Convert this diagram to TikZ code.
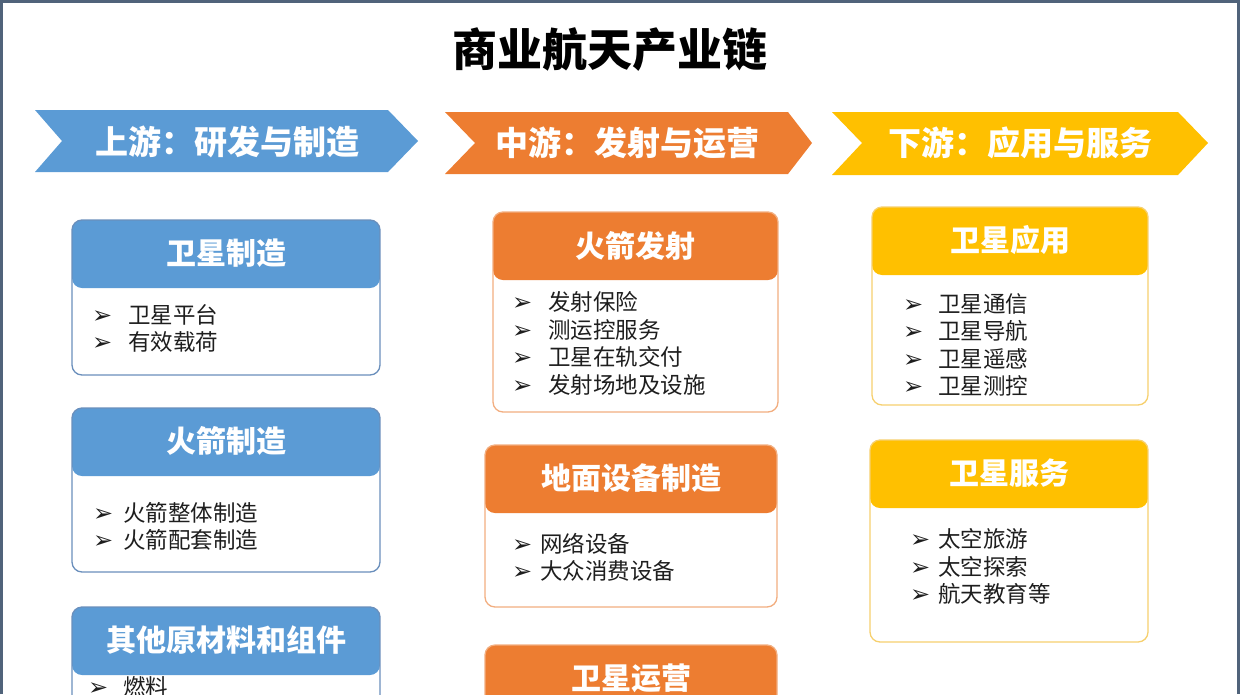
\documentclass[tikz,border=0pt]{standalone}
\usepackage{fontspec}
\setmainfont{Noto Sans CJK SC}
\newfontfamily\bulletfont{DejaVu Sans}
\definecolor{upblue}{HTML}{5B9BD5}
\definecolor{upline}{HTML}{6A8FBC}
\definecolor{midorange}{HTML}{ED7D31}
\definecolor{midline}{HTML}{F2AE80}
\definecolor{downyellow}{HTML}{FFC000}
\definecolor{downline}{HTML}{F6D06E}
\definecolor{frameline}{HTML}{50637A}
\definecolor{itemtext}{HTML}{1E1E1E}
\newcommand\itembul[1][34pt]{\makebox[#1][l]{\bulletfont\bfseries\fontsize{24}{24}\selectfont\raisebox{0pt}{➢}}}

\begin{document}
\begin{tikzpicture}[x=1pt, y=-1pt,
        card/.style={rounded corners=10, fill=white, line width=1.3pt,
            path picture={\fill[#1] (path picture bounding box.north west)
                rectangle ([yshift=-68pt]path picture bounding box.north east);}},
        chevtext/.style={text=white, font=\bfseries\fontsize{33}{33}\selectfont, inner sep=0pt},
        headtext/.style={text=white, font=\bfseries\fontsize{30}{30}\selectfont, inner sep=0pt},
        itemlist/.style={text=itemtext, font=\fontsize{22.5}{27.5}\selectfont, align=left, anchor=west, inner sep=0pt}
    ]
    \useasboundingbox (0,0) rectangle (1242,694);
    \clip (0,0) rectangle (1242,694);
    \draw[frameline, line width=2.5pt] (1.25,694) -- (1.25,1.25) -- (1238.5,1.25) -- (1238.5,694);
    \node[font=\bfseries\fontsize{45}{45}\selectfont, inner sep=0pt] (title) at (610,50) {商业航天产业链};

    % stream banners
    \fill[upblue] (35,110) -- (388,110) -- (418,141) -- (388,172) -- (35,172) -- (62,141) -- cycle;
    \fill[midorange] (445,112) -- (788,112) -- (812,143) -- (788,174) -- (445,174) -- (475,143) -- cycle;
    \fill[downyellow] (832,112) -- (1178,112) -- (1208,143) -- (1178,175) -- (832,175) -- (862,143) -- cycle;
    \node[chevtext] (upT) at (227,142) {上游：研发与制造};
    \node[chevtext] (midT) at (627,143) {中游：发射与运营};
    \node[chevtext] (downT) at (1020,143) {下游：应用与服务};

    % upstream
    \node[card=upblue, draw=upline, minimum width=308, minimum height=155] (satmfg) at (226,297.5) {};
    \node[headtext] (satmfgT) at ([yshift=-34pt]satmfg.north) {卫星制造};
    \node[itemlist] (satmfgL) at (92,328.5) {\itembul[36pt]卫星平台\\\itembul[36pt]有效载荷};

    \node[card=upblue, draw=upline, minimum width=308, minimum height=164] (rktmfg) at (226,490) {};
    \node[headtext] (rktmfgT) at ([yshift=-34pt]rktmfg.north) {火箭制造};
    \node[itemlist] (rktmfgL) at (93,526.5) {\itembul[30pt]火箭整体制造\\\itembul[30pt]火箭配套制造};

    \node[card=upblue, draw=upline, minimum width=308, minimum height=193] (othmat) at (226,703.5) {};
    \node[headtext] (othmatT) at ([yshift=-34pt]othmat.north) {其他原材料和组件};
    \node[itemlist] (othmatL) at (88,687) {\itembul[35pt]燃料};

    % midstream
    \node[card=midorange, draw=midline, minimum width=285, minimum height=200] (launch) at (635.5,312) {};
    \node[headtext] (launchT) at ([yshift=-35pt]launch.north) {火箭发射};
    \node[itemlist] (launchL) at (512,343.25) {\itembul[36pt]发射保险\\\itembul[36pt]测运控服务\\\itembul[36pt]卫星在轨交付\\\itembul[36pt]发射场地及设施};

    \node[card=midorange, draw=midline, minimum width=292, minimum height=162] (ground) at (631,526) {};
    \node[headtext] (groundT) at ([yshift=-34pt]ground.north) {地面设备制造};
    \node[itemlist] (groundL) at (512,557.5) {\itembul[28pt]网络设备\\\itembul[28pt]大众消费设备};

    \node[card=midorange, draw=midline, minimum width=292, minimum height=155] (satops) at (631,722.5) {};
    \node[headtext] (satopsT) at ([yshift=-34pt]satops.north) {卫星运营};

    % downstream
    \node[card=downyellow, draw=downline, minimum width=276, minimum height=198] (satapp) at (1010,306) {};
    \node[headtext] (satappT) at ([yshift=-34pt]satapp.north) {卫星应用};
    \node[itemlist] (satappL) at (903,345) {\itembul[35pt]卫星通信\\\itembul[35pt]卫星导航\\\itembul[35pt]卫星遥感\\\itembul[35pt]卫星测控};

    \node[card=downyellow, draw=downline, minimum width=278, minimum height=202] (satsvc) at (1009,541) {};
    \node[headtext] (satsvcT) at ([yshift=-34pt]satsvc.north) {卫星服务};
    \node[itemlist] (satsvcL) at (910,566.7) {\itembul[28pt]太空旅游\\\itembul[28pt]太空探索\\\itembul[28pt]航天教育等};
\end{tikzpicture}
\end{document}
